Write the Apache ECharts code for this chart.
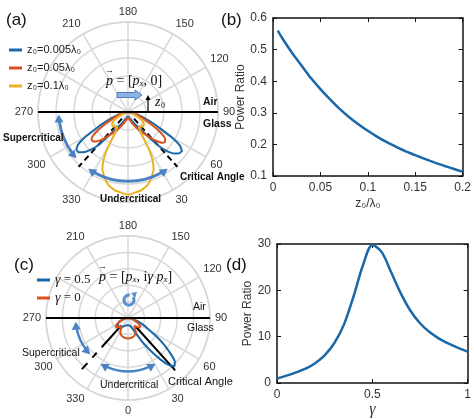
<!DOCTYPE html>
<html><head><meta charset="utf-8">
<script src="https://cdn.jsdelivr.net/npm/echarts@6/dist/echarts.min.js"></script>
<style>html,body{margin:0;padding:0;background:#fff}#c{width:474px;height:419px}</style>
</head><body><div id="c"></div>
<script>
// ---------- data (angles in degrees from the downward normal, negative = left side) ----------
const A_BLUE_ANG = [-90,-80,-75,-70,-66,-63,-60,-57,-54,-51,-48,-45,-42,-40,-35,-30,-20,-10,0,10,20,30,35,40,42,45,48,51,54,57,60,63,66,70,75,80,90];
const A_BLUE_R   = [0,0.06,0.11,0.19,0.29,0.39,0.54,0.66,0.71,0.71,0.67,0.6,0.5,0.38,0.23,0.16,0.09,0.06,0.05,0.06,0.09,0.16,0.23,0.38,0.5,0.62,0.69,0.73,0.74,0.69,0.56,0.4,0.3,0.19,0.11,0.06,0];
const A_ORANGE_ANG = A_BLUE_ANG;
const A_ORANGE_R = [0,0.05,0.09,0.14,0.2,0.27,0.35,0.44,0.5,0.51,0.49,0.45,0.4,0.35,0.28,0.22,0.13,0.08,0.06,0.08,0.13,0.22,0.28,0.35,0.4,0.46,0.51,0.53,0.51,0.45,0.36,0.27,0.2,0.14,0.09,0.05,0];
const A_YELLOW_ANG = [-90,-80,-70,-60,-55,-50,-45,-40,-36,-33,-31,-29,-27,-24,-20,-15,-10,0,10,15,20,24,27,29,31,33,36,40,45,50,55,60,70,80,90];
const A_YELLOW_R   = [0,0.03,0.08,0.17,0.21,0.23,0.23,0.21,0.21,0.24,0.33,0.5,0.6,0.7,0.77,0.84,0.88,0.92,0.88,0.84,0.77,0.7,0.6,0.5,0.33,0.24,0.21,0.21,0.23,0.23,0.21,0.17,0.08,0.03,0];

const C_BLUE_ANG = [-90,-80,-70,-60,-50,-45,-40,-30,-20,-10,0,10,20,25,30,34,38,41,44,47,50,54,58,62,66,70,76,82,90];
const C_BLUE_R   = [0,0.04,0.1,0.14,0.16,0.16,0.15,0.12,0.1,0.09,0.09,0.09,0.12,0.17,0.3,0.46,0.64,0.76,0.82,0.78,0.68,0.53,0.38,0.27,0.2,0.14,0.09,0.05,0];
const C_ORANGE_ANG = [-90,-80,-72,-66,-60,-55,-50,-46,-42,-38,-33,-28,-20,-10,0,10,20,28,33,38,42,46,50,55,60,66,72,80,90];
const C_ORANGE_R   = [0,0.04,0.08,0.12,0.16,0.18,0.18,0.16,0.13,0.13,0.16,0.2,0.23,0.245,0.25,0.245,0.23,0.2,0.16,0.13,0.13,0.16,0.18,0.18,0.16,0.12,0.08,0.04,0];

const B_X = [0.005,0.01,0.02,0.03,0.04,0.05,0.06,0.07,0.08,0.09,0.1,0.11,0.12,0.13,0.14,0.15,0.16,0.17,0.18,0.19,0.2];
const B_Y = [0.56,0.535,0.49,0.45,0.41,0.375,0.343,0.313,0.287,0.264,0.243,0.224,0.207,0.192,0.178,0.166,0.154,0.143,0.133,0.123,0.114];
const D_X = [0,0.05,0.1,0.15,0.2,0.25,0.3,0.35,0.4,0.45,0.5,0.55,0.6,0.65,0.7,0.75,0.8,0.85,0.9,0.95,1];
const D_Y = [1.0,1.6,2.3,3.1,4.3,6.0,8.6,12.5,18.5,25.3,29.8,28.2,23.8,19.3,15.6,12.9,11.0,9.6,8.5,7.6,6.8];

const NAMES_A = ['z\u2080=0.005\u03bb\u2080','z\u2080=0.05\u03bb\u2080','z\u2080=0.1\u03bb\u2080'];
const NAMES_C = ['\u03b3 = 0.5','\u03b3 = 0'];
const CRIT = 42;

const BLUE='#1a68a8', ORANGE='#d95319', YELLOW='#edb120', GRID='#d8d8d8', ARROW='#4a82c3';
const toA = a => a < 0 ? a + 360 : a;
const pol = (angs, rs) => angs.map((a,i)=>[rs[i], toA(a)]);

function angleAxis(pi, hide){
  return {polarIndex:pi, type:'value', min:0, max:360, interval:30, startAngle:270, clockwise:false,
    axisLine:{lineStyle:{color:GRID,width:1.5}}, axisTick:{show:false},
    splitLine:{lineStyle:{color:GRID,width:1.5}},
    axisLabel:{margin:5, color:'#333', fontSize:11, fontFamily:'Liberation Sans',
      formatter: v => hide.indexOf(v) >= 0 ? '' : String(v)}};
}
function radiusAxis(pi){
  return {polarIndex:pi, type:'value', min:0, max:1, interval:0.2,
    axisLine:{show:false}, axisTick:{show:false}, axisLabel:{show:false},
    splitLine:{lineStyle:{color:GRID,width:1.5}}};
}
function polLine(pi, name, data, color, w, extra){
  return Object.assign({type:'line', coordinateSystem:'polar', polarIndex:pi, name:name, data:data,
    showSymbol:false, symbol:'none', smooth:0.1, lineStyle:{color:color,width:w}, itemStyle:{color:color}, silent:true, z:3}, extra||{});
}
const axisCommon = {axisLine:{onZero:false, lineStyle:{color:'#111',width:1.5}},
  axisTick:{inside:true,length:4,lineStyle:{color:'#111'}}, splitLine:{show:false}};
const lab = {color:'#333', fontSize:12, fontFamily:'Liberation Sans', margin:6};

const chart = echarts.init(document.getElementById('c'), null, {renderer:'canvas'});
const option = {
  animation:false,
  polar:[{center:[128,112], radius:[0,90]}, {center:[128,318], radius:[0,82]}],
  angleAxis:[angleAxis(0,[0,240,360]), angleAxis(1,[240,360])],
  radiusAxis:[radiusAxis(0), radiusAxis(1)],
  grid:[{left:273, top:18, width:192, height:158}, {left:277, top:244, width:191, height:144}],
  xAxis:[
    Object.assign({gridIndex:0, type:'value', min:0, max:0.2, interval:0.05, position:'bottom',
      axisLabel:lab, name:'z\u2080/\u03bb\u2080', nameLocation:'middle', nameGap:22,
      nameTextStyle:{color:'#333', fontSize:12, fontFamily:'Liberation Sans'}}, axisCommon),
    Object.assign({gridIndex:0, type:'value', min:0, max:0.2, interval:0.05, position:'top', axisLabel:{show:false}}, axisCommon),
    Object.assign({gridIndex:1, type:'value', min:0, max:1, interval:0.5, position:'bottom',
      axisLabel:lab, name:'\u03b3', nameLocation:'middle', nameGap:13,
      nameTextStyle:{color:'#333', fontSize:16, fontFamily:'Liberation Serif', fontStyle:'italic'}}, axisCommon),
    Object.assign({gridIndex:1, type:'value', min:0, max:1, interval:0.5, position:'top', axisLabel:{show:false}}, axisCommon)
  ],
  yAxis:[
    Object.assign({gridIndex:0, type:'value', min:0.1, max:0.6, interval:0.1, position:'left',
      axisLabel:lab, name:'Power Ratio', nameLocation:'middle', nameGap:22,
      nameTextStyle:{color:'#333', fontSize:12, fontFamily:'Liberation Sans'}}, axisCommon),
    Object.assign({gridIndex:0, type:'value', min:0.1, max:0.6, interval:0.1, position:'right', axisLabel:{show:false}}, axisCommon),
    Object.assign({gridIndex:1, type:'value', min:0, max:30, interval:10, position:'left',
      axisLabel:lab, name:'Power Ratio', nameLocation:'middle', nameGap:19,
      nameTextStyle:{color:'#333', fontSize:12, fontFamily:'Liberation Sans'}}, axisCommon),
    Object.assign({gridIndex:1, type:'value', min:0, max:30, interval:10, position:'right', axisLabel:{show:false}}, axisCommon)
  ],
  legend:[
    {data:NAMES_A, orient:'vertical', left:4, top:39, itemWidth:13, itemHeight:3, icon:'rect', itemGap:6,
     textStyle:{fontSize:11, lineHeight:12, color:'#222', fontFamily:'Liberation Sans'}, selectedMode:false},
    {data:NAMES_C, orient:'vertical', left:32, top:268, itemWidth:13, itemHeight:3, icon:'rect', itemGap:4,
     textStyle:{fontSize:13, lineHeight:13, color:'#222', fontFamily:'Liberation Serif',
       rich:{g:{fontSize:14, fontStyle:'italic', fontFamily:'Liberation Serif', color:'#222'}}},
     formatter: n => n.replace('\u03b3','{g|\u03b3}'), selectedMode:false}
  ],
  series:[
    polLine(0, 'interface-a', [[1,270],[1,90]], '#000', 2, {smooth:false, z:4}),
    polLine(0, 'crit-a-r', [[0.1,CRIT],[0.82,CRIT]], '#000', 2, {smooth:false, lineStyle:{color:'#000',width:2,type:[6,4]}}),
    polLine(0, 'crit-a-l', [[0.1,360-CRIT],[0.82,360-CRIT]], '#000', 2, {smooth:false, lineStyle:{color:'#000',width:2,type:[6,4]}}),
    polLine(0, NAMES_A[0], pol(A_BLUE_ANG, A_BLUE_R), BLUE, 2),
    polLine(0, NAMES_A[1], pol(A_ORANGE_ANG, A_ORANGE_R), ORANGE, 2),
    polLine(0, NAMES_A[2], pol(A_YELLOW_ANG, A_YELLOW_R), YELLOW, 2),

    polLine(1, 'interface-c', [[1,270],[1,90]], '#000', 2, {smooth:false, z:4}),
    polLine(1, 'crit-c-r', [[0.14,CRIT],[0.86,CRIT]], '#000', 2, {smooth:false}),
    polLine(1, 'crit-c-l1', [[0.12,360-CRIT],[0.48,360-CRIT]], '#000', 2, {smooth:false}),
    polLine(1, 'crit-c-l2', [[0.57,360-CRIT],[0.65,360-CRIT]], '#000', 2, {smooth:false}),
    polLine(1, 'crit-c-l3', [[0.74,360-CRIT],[0.84,360-CRIT]], '#000', 2, {smooth:false}),
    polLine(1, NAMES_C[0], pol(C_BLUE_ANG, C_BLUE_R), BLUE, 2),
    polLine(1, NAMES_C[1], pol(C_ORANGE_ANG, C_ORANGE_R), ORANGE, 2),

    {type:'line', xAxisIndex:0, yAxisIndex:0, data:B_X.map((x,i)=>[x,B_Y[i]]), showSymbol:false, smooth:0.3,
     lineStyle:{color:BLUE,width:2.5}, silent:true},
    {type:'line', xAxisIndex:2, yAxisIndex:2, data:D_X.map((x,i)=>[x,D_Y[i]]), showSymbol:false, smooth:0.3,
     lineStyle:{color:BLUE,width:2.5}, silent:true}
  ]
};
chart.setOption(option);

// ---------- annotations ----------
const g = [];
function txt(x,y,text,opt){
  g.push({type:'text', x:x, y:y, z:10, style:Object.assign({text:text, fill:'#111', fontSize:11,
    fontFamily:'Liberation Sans', textVerticalAlign:'middle', textAlign:'left'}, opt||{})});
}
function arcArrow(pi, r, aFrom, aTo, color, lw){
  const c = chart.convertToPixel({polarIndex:pi}, [0,0]);
  const p = chart.convertToPixel({polarIndex:pi}, [r,0]);
  const R = Math.abs(p[1]-c[1]);
  const t = a => Math.PI/2 - a*Math.PI/180;
  const L = 8, W = 9, d = (L-1)/R;
  g.push({type:'arc', z:8, shape:{cx:c[0], cy:c[1], r:R, startAngle:t(aTo)+d, endAngle:t(aFrom)-d, clockwise:true},
    style:{stroke:color, lineWidth:lw, fill:null}});
  [[t(aTo),1],[t(aFrom),-1]].forEach(([tt,s])=>{
    const tip = [c[0]+R*Math.cos(tt), c[1]+R*Math.sin(tt)];
    const dir = [s*Math.sin(tt), -s*Math.cos(tt)];
    const n = [Math.cos(tt), Math.sin(tt)];
    const b = [tip[0]-dir[0]*L, tip[1]-dir[1]*L];
    g.push({type:'polygon', z:8, shape:{points:[tip,[b[0]+n[0]*W/2,b[1]+n[1]*W/2],[b[0]-n[0]*W/2,b[1]-n[1]*W/2]]},
      style:{fill:color}});
  });
}
arcArrow(0, 0.77, -88, -48, ARROW, 3);
arcArrow(0, 0.77, -35, 35, ARROW, 3);
arcArrow(1, 0.64, -86, -46, ARROW, 2.5);
arcArrow(1, 0.65, -31, 31, ARROW, 2.5);

// panel letters
txt(6,20,'(a)',{fontSize:17});
txt(221,20,'(b)',{fontSize:17});
txt(14,265,'(c)',{fontSize:17});
txt(226,265,'(d)',{fontSize:17});

// panel (a) texts
txt(203,102,'Air',{fontWeight:'bold',fontSize:10.5});
txt(203,124,'Glass',{fontWeight:'bold',fontSize:10.5});
txt(3,138,'Supercritical',{fontWeight:'bold',fontSize:10});
txt(100,199,'Undercritical',{fontWeight:'bold',fontSize:10});
txt(180,177,'Critical Angle',{fontWeight:'bold',fontSize:10});
g.push({type:'text', x:106, y:81, z:10, style:{text:'{i|p} = [{i|p}{s|x}, 0]', fill:'#111',
  fontSize:14, fontFamily:'Liberation Serif', textVerticalAlign:'middle',
  rich:{i:{fontStyle:'italic',fontSize:14,fontFamily:'Liberation Serif'}, s:{fontStyle:'italic',fontSize:9,fontFamily:'Liberation Serif',verticalAlign:'bottom',lineHeight:9}}}});
txt(105,71,'\u2192',{fontSize:9,fontFamily:'Liberation Serif'});
txt(155,102,'z',{fontSize:14,fontFamily:'Liberation Serif',fontStyle:'italic'});
txt(161,106,'0',{fontSize:8,fontFamily:'Liberation Serif'});
// dipole block arrow
g.push({type:'polygon', z:9, shape:{points:[[117,92.5],[135,92.5],[135,90],[142,95],[135,100],[135,97.5],[117,97.5]]},
  style:{fill:'#8db3e2', stroke:'#4f7fbf', lineWidth:1}});
// z0 arrow
g.push({type:'line', z:9, shape:{x1:148,y1:111,x2:148,y2:99}, style:{stroke:'#000',lineWidth:1.2}});
g.push({type:'polygon', z:9, shape:{points:[[148,95],[145.5,100],[150.5,100]]}, style:{fill:'#000'}});

// panel (c) texts
txt(193,307,'Air',{fontSize:10.5});
txt(187,328,'Glass',{fontSize:10.5});
txt(22,353,'Supercritical',{fontSize:10.5});
txt(100,385,'Undercritical',{fontSize:10.5});
txt(168,382,'Critical Angle',{fontSize:11});
g.push({type:'text', x:99, y:277, z:10, style:{text:'{i|p} = [{i|p}{s|x}, i{i|\u03b3 p}{s|x}]', fill:'#111',
  fontSize:14, fontFamily:'Liberation Serif', textVerticalAlign:'middle',
  rich:{i:{fontStyle:'italic',fontSize:14,fontFamily:'Liberation Serif'}, s:{fontStyle:'italic',fontSize:9,fontFamily:'Liberation Serif',verticalAlign:'bottom',lineHeight:9}}}});
txt(98,267,'\u2192',{fontSize:9,fontFamily:'Liberation Serif'});
// circular arrow
g.push({type:'arc', z:9, shape:{cx:129, cy:300, r:5, startAngle:-Math.PI*0.2, endAngle:Math.PI*1.55, clockwise:true},
  style:{stroke:'#5b8fd0', lineWidth:3.2, fill:null}});
g.push({type:'polygon', z:9, shape:{points:[[131,293],[137,292],[135,298]]}, style:{fill:'#5b8fd0'}});

chart.setOption({graphic:g});
</script></body></html>
